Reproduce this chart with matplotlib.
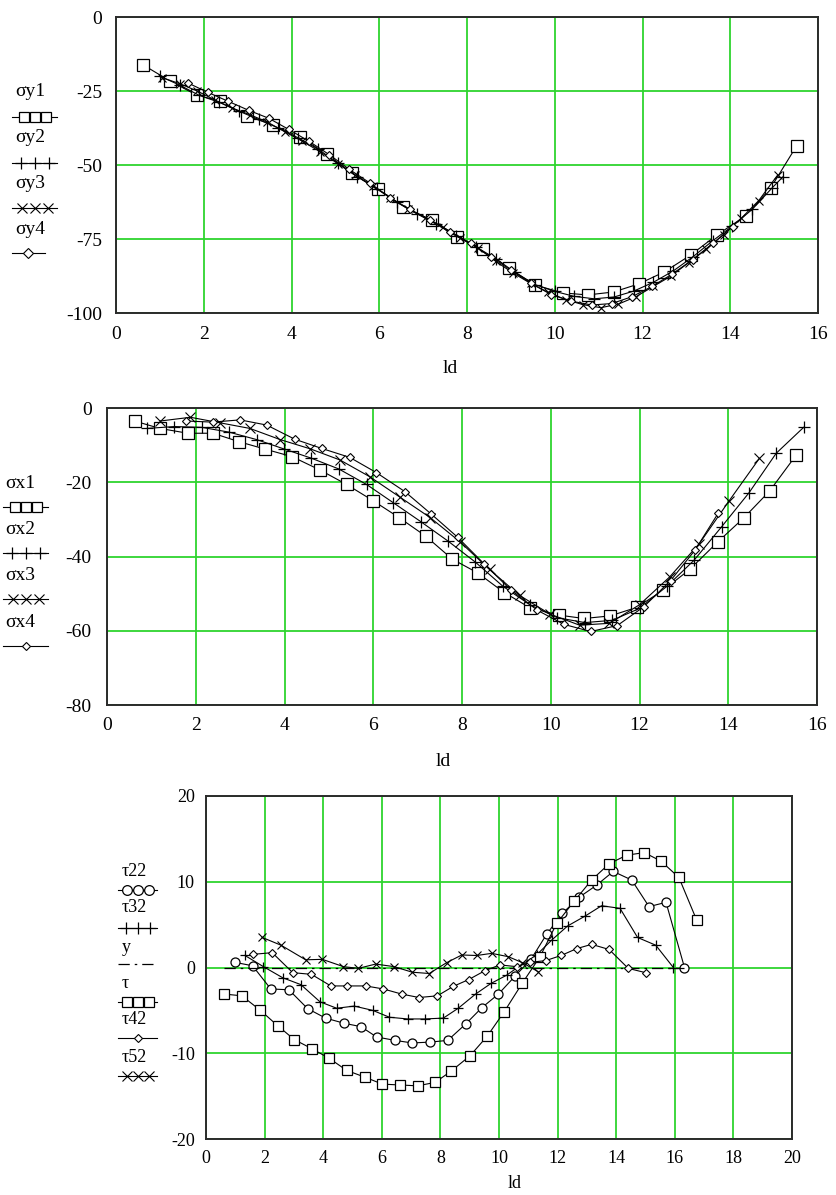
import matplotlib
matplotlib.use("Agg")
import matplotlib.pyplot as plt
from matplotlib.lines import Line2D

plt.rcParams["font.family"] = ["Liberation Serif", "DejaVu Serif"]
plt.rcParams["axes.unicode_minus"] = False

W, H = 836, 1195
GREEN = "#2ed42e"

# ---------------- top chart: sigma y ----------------
sy1_x = [0.62, 1.23, 1.84, 2.37, 2.98, 3.58, 4.19, 4.8, 5.37, 5.97, 6.54, 7.2, 7.77,
         8.36, 8.95, 9.54, 10.18, 10.75, 11.34, 11.91, 12.5, 13.1, 13.7, 14.35, 14.92, 15.51]
sy1_y = [-16.2, -21.6, -26.4, -28.4, -33.4, -36.5, -40.5, -46.3, -52.7, -58.1, -64.2, -68.6, -74.3,
         -78.4, -84.8, -90.5, -93.2, -93.9, -92.9, -90.2, -86.1, -80.4, -73.6, -67.2, -57.8, -43.6]

sy2_x = [1.0, 1.45, 1.9, 2.35, 2.8, 3.25, 3.7, 4.15, 4.6, 5.05, 5.5, 5.95, 6.4, 6.85, 7.3, 7.75,
         8.2, 8.65, 9.1, 9.55, 10.0, 10.45, 10.9, 11.35, 11.8, 12.25, 12.7, 13.15, 13.6, 14.05,
         14.5, 14.95, 15.2]
sy2_y = [-20.0, -23.0, -26.5, -28.8, -31.8, -34.6, -37.5, -40.8, -44.6, -49.2, -53.9, -58.0, -62.6,
         -66.4, -70.0, -74.0, -77.6, -81.6, -86.3, -90.4, -92.7, -94.4, -95.2, -94.6, -92.6, -89.6,
         -85.8, -81.0, -75.6, -70.6, -65.0, -57.8, -54.0]

sy3_x = [1.05, 1.45, 1.85, 2.25, 2.65, 3.05, 3.45, 3.85, 4.25, 4.65, 5.05, 5.45, 5.85, 6.25, 6.65,
         7.05, 7.45, 7.85, 8.25, 8.65, 9.05, 9.45, 9.85, 10.25, 10.65, 11.05, 11.45, 11.85, 12.25,
         12.65, 13.05, 13.45, 13.85, 14.25, 14.65, 15.08]
sy3_y = [-20.5, -22.5, -25.0, -28.0, -30.8, -33.0, -35.5, -38.8, -42.0, -45.5, -49.5, -53.5, -57.2,
         -61.0, -64.8, -67.8, -71.0, -74.5, -78.0, -82.5, -86.5, -90.0, -93.0, -95.5, -97.2, -98.2,
         -97.0, -94.5, -91.0, -87.5, -83.0, -78.5, -73.5, -68.0, -62.0, -53.4]

sy4_x = [1.64, 2.1, 2.56, 3.02, 3.48, 3.94, 4.4, 4.86, 5.32, 5.78, 6.24, 6.7, 7.16, 7.62, 8.08,
         8.54, 9.0, 9.46, 9.92, 10.38, 10.84, 11.3, 11.76, 12.22, 12.68, 13.14, 13.6, 14.06]
sy4_y = [-22.3, -25.5, -28.5, -31.5, -34.2, -38.0, -42.0, -46.5, -51.5, -56.0, -61.0, -65.0, -68.5,
         -72.5, -76.5, -81.0, -85.5, -90.0, -93.8, -96.0, -97.3, -96.8, -94.5, -91.0, -86.8, -82.0,
         -76.5, -70.8]

# ---------------- middle chart: sigma x ----------------
sx1_x = [0.62, 1.19, 1.82, 2.39, 2.98, 3.57, 4.17, 4.8, 5.4, 6.0, 6.58, 7.18, 7.78, 8.35, 8.95,
         9.53, 10.19, 10.75, 11.34, 11.94, 12.53, 13.13, 13.77, 14.35, 14.93, 15.53]
sx1_y = [-3.5, -5.5, -6.8, -6.8, -9.1, -11.1, -13.1, -16.7, -20.6, -25.0, -29.5, -34.5, -40.7,
         -44.4, -49.7, -53.8, -55.8, -56.7, -56.0, -53.7, -49.1, -43.5, -36.0, -29.6, -22.4, -12.7]

sx2_x = [0.9, 1.52, 2.13, 2.75, 3.37, 3.98, 4.6, 5.22, 5.85, 6.45, 7.07, 7.68, 8.3, 8.92, 9.53,
         10.15, 10.77, 11.38, 12.0, 12.62, 13.23, 13.85, 14.47, 15.08, 15.7]
sx2_y = [-5.5, -5.0, -5.2, -6.5, -8.5, -11.0, -13.5, -16.4, -20.6, -25.5, -30.6, -35.8, -41.5,
         -48.0, -53.0, -56.5, -57.8, -57.2, -54.0, -48.0, -41.0, -32.0, -22.8, -12.2, -5.2]

sx3_x = [1.2, 1.88, 2.55, 3.22, 3.9, 4.58, 5.25, 5.92, 6.6, 7.28, 7.95, 8.62, 9.3, 9.98, 10.65,
         11.32, 12.0, 12.68, 13.35, 14.02, 14.7]
sx3_y = [-3.5, -2.5, -4.0, -5.5, -8.5, -11.0, -14.0, -18.5, -24.0, -29.5, -36.0, -43.5, -50.5,
         -55.5, -58.5, -58.0, -53.0, -45.5, -36.5, -25.0, -13.6]

sx4_x = [1.77, 2.38, 3.0, 3.6, 4.23, 4.84, 5.47, 6.07, 6.71, 7.31, 7.9, 8.5, 9.1, 9.7, 10.3,
         10.9, 11.5, 12.1, 12.7, 13.25, 13.77]
sx4_y = [-3.5, -3.8, -3.2, -4.6, -8.4, -10.9, -13.3, -17.4, -22.5, -28.6, -34.8, -42.0, -49.0,
         -54.5, -58.3, -60.2, -58.6, -53.5, -46.5, -38.3, -28.4]

# ---------------- bottom chart: tau ----------------
t22_x = [0.99, 1.59, 2.21, 2.83, 3.47, 4.08, 4.71, 5.29, 5.82, 6.45, 7.04, 7.65, 8.25, 8.86,
         9.41, 9.98, 10.55, 11.1, 11.63, 12.16, 12.74, 13.33, 13.9, 14.53, 15.12, 15.7, 16.33]
t22_y = [0.6, 0.2, -2.5, -2.6, -4.8, -5.9, -6.5, -6.9, -8.1, -8.5, -8.8, -8.7, -8.5, -6.6,
         -4.7, -3.1, -1.0, 1.0, 3.9, 6.3, 8.2, 9.6, 11.2, 10.2, 7.1, 7.6, 0.0]

t32_x = [1.33, 1.96, 2.62, 3.24, 3.89, 4.46, 5.06, 5.69, 6.26, 6.88, 7.47, 8.1, 8.61, 9.2,
         9.73, 10.26, 10.63, 11.28, 11.8, 12.34, 12.94, 13.5, 14.13, 14.73, 15.35, 15.95]
t32_y = [1.4, 0.1, -1.2, -2.0, -4.0, -4.75, -4.5, -5.0, -5.8, -6.0, -6.0, -5.9, -4.75, -3.1,
         -1.85, -0.9, 0.0, 1.46, 3.2, 4.84, 6.0, 7.2, 6.9, 3.5, 2.6, 0.0]

yline_x = [0.6, 16.3]
yline_y = [0.0, 0.0]

tau_x = [0.63, 1.22, 1.84, 2.45, 3.01, 3.63, 4.21, 4.8, 5.43, 6.02, 6.62, 7.22, 7.82, 8.36,
         9.01, 9.6, 10.18, 10.8, 11.4, 11.97, 12.57, 13.16, 13.76, 14.36, 14.96, 15.53, 16.14, 16.75]
tau_y = [-3.1, -3.3, -4.95, -6.8, -8.4, -9.5, -10.6, -12.0, -12.8, -13.6, -13.7, -13.8, -13.4,
         -12.1, -10.3, -8.0, -5.15, -1.8, 1.26, 5.15, 7.75, 10.2, 12.1, 13.1, 13.4, 12.4, 10.5, 5.5]

t42_x = [1.62, 2.26, 2.96, 3.6, 4.26, 4.82, 5.45, 6.05, 6.68, 7.27, 7.9, 8.44, 8.97, 9.52,
         10.03, 10.6, 11.05, 11.59, 12.12, 12.65, 13.16, 13.76, 14.41, 15.0]
t42_y = [1.54, 1.73, -0.6, -0.8, -2.15, -2.15, -2.15, -2.5, -3.1, -3.5, -3.3, -2.2, -1.4, -0.37,
         0.3, 0.1, 0.6, 0.8, 1.4, 2.2, 2.7, 2.1, -0.1, -0.6]

t52_x = [1.92, 2.56, 3.4, 3.97, 4.69, 5.2, 5.79, 6.42, 7.04, 7.62, 8.21, 8.73, 9.24, 9.75,
         10.32, 10.8, 11.34]
t52_y = [3.5, 2.6, 0.9, 0.95, 0.1, -0.1, 0.4, 0.1, -0.55, -0.7, 0.56, 1.46, 1.4, 1.65, 1.26,
         0.56, -0.5]

# marker styles (MathCad look)
SQ = dict(marker="s", mfc="white", mec="black", mew=0.9)
PL = dict(marker="+", mec="black", mew=0.9)
XX = dict(marker="x", mec="black", mew=0.8)
DI = dict(marker="D", mfc="white", mec="black", mew=0.8)
CI = dict(marker="o", mfc="white", mec="black", mew=0.9)
LINE = dict(color="black", lw=0.8)
DASH = dict(color="black", lw=0.9, ls=(0, (9, 4, 2, 4)))


def fx(px):
    return px / W


def fy(py):
    return 1 - py / H


def make_axes(fig, l, t, r, b):
    ax = fig.add_axes([fx(l), fy(b), fx(r) - fx(l), (b - t) / H])
    ax.grid(True, color=GREEN, lw=1.3)
    for s in ax.spines.values():
        s.set_color("#2b2b2b")
        s.set_linewidth(1.4)
    return ax


def legend_entry(fig, label, text_xy, line_x, line_y, style, n_marks, fs, gap=0):
    # MathCad style: name on one row, line sample just below it
    fig.text(fx(text_xy[0]), fy(text_xy[1]), label, fontsize=fs, ha="left", va="center")
    x0, x1 = line_x
    xc = (x0 + x1) / 2
    if n_marks == 3:
        xs = [x0, xc - gap, xc, xc + gap, x1]
        mk = [1, 2, 3]
    elif n_marks == 1:
        xs = [x0, xc, x1]
        mk = [1]
    else:
        xs = [x0, x1]
        mk = None
    ln = Line2D([fx(v) for v in xs], [fy(line_y)] * len(xs), transform=fig.transFigure,
                markevery=mk, **style)
    fig.add_artist(ln)


fig = plt.figure(figsize=(W / 100, H / 100), dpi=100)

# ---- top ----
ax1 = make_axes(fig, 116, 17, 818, 313)
ax1.plot(sy1_x, sy1_y, ms=8.5, **SQ, **LINE)
ax1.plot(sy2_x, sy2_y, ms=8, **PL, **LINE)
ax1.plot(sy3_x, sy3_y, ms=6, **XX, **LINE)
ax1.plot(sy4_x, sy4_y, ms=4.5, **DI, **LINE)
ax1.set_xlim(0, 16)
ax1.set_ylim(-100, 0)
ax1.set_xticks(range(0, 17, 2))
ax1.set_yticks([0, -25, -50, -75, -100])
ax1.tick_params(length=0, labelsize=14)
ax1.tick_params(axis="y", pad=10)
ax1.tick_params(axis="x", pad=9)
ax1.set_xlabel("ld", fontsize=14)
ax1.xaxis.set_label_coords(0.476, -0.16)
ax1.xaxis.label.set_va("top")

legend_entry(fig, "σy1", (15, 92), (12, 57), 117, dict(ms=7.5, **SQ, **LINE), 3, 14, gap=11)
legend_entry(fig, "σy2", (15, 138), (12, 57), 163, dict(ms=9, **PL, **LINE), 3, 14, gap=14)
legend_entry(fig, "σy3", (15, 184), (12, 57), 208, dict(ms=7.5, **XX, **LINE), 3, 14, gap=13)
legend_entry(fig, "σy4", (15, 230), (12, 45), 253, dict(ms=5, **DI, **LINE), 1, 14)

# ---- middle ----
ax2 = make_axes(fig, 107, 408, 817, 705)
ax2.plot(sx1_x, sx1_y, ms=8.5, **SQ, **LINE)
ax2.plot(sx2_x, sx2_y, ms=8, **PL, **LINE)
ax2.plot(sx3_x, sx3_y, ms=6.5, **XX, **LINE)
ax2.plot(sx4_x, sx4_y, ms=4.5, **DI, **LINE)
ax2.set_xlim(0, 16)
ax2.set_ylim(-80, 0)
ax2.set_xticks(range(0, 17, 2))
ax2.set_yticks([0, -20, -40, -60, -80])
ax2.tick_params(length=0, labelsize=14)
ax2.tick_params(axis="y", pad=11)
ax2.tick_params(axis="x", pad=9)
ax2.set_xlabel("ld", fontsize=14)
ax2.xaxis.set_label_coords(0.473, -0.16)
ax2.xaxis.label.set_va("top")

legend_entry(fig, "σx1", (5, 483), (3, 48), 507, dict(ms=7.5, **SQ, **LINE), 3, 14, gap=11)
legend_entry(fig, "σx2", (5, 529), (3, 48), 553, dict(ms=9, **PL, **LINE), 3, 14, gap=14)
legend_entry(fig, "σx3", (5, 575), (3, 48), 599, dict(ms=7.5, **XX, **LINE), 3, 14, gap=13)
legend_entry(fig, "σx4", (5, 622), (3, 48), 646, dict(ms=4, **DI, **LINE), 1, 14)

# ---- bottom ----
ax3 = make_axes(fig, 206, 796, 792, 1139)
ax3.plot(t22_x, t22_y, ms=6.5, **CI, **LINE)
ax3.plot(t32_x, t32_y, ms=7.5, **PL, **LINE)
ax3.plot(yline_x, yline_y, **DASH)
ax3.plot(tau_x, tau_y, ms=7.5, **SQ, **LINE)
ax3.plot(t42_x, t42_y, ms=3.8, **DI, **LINE)
ax3.plot(t52_x, t52_y, ms=6, **XX, **LINE)
ax3.set_xlim(0, 20)
ax3.set_ylim(-20, 20)
ax3.set_xticks(range(0, 21, 2))
ax3.set_yticks([-20, -10, 0, 10, 20])
ax3.tick_params(length=0, labelsize=13)
ax3.tick_params(axis="y", pad=8)
ax3.tick_params(axis="x", pad=8)
ax3.set_xlabel("ld", fontsize=13)
ax3.xaxis.set_label_coords(0.527, -0.105)
ax3.xaxis.label.set_va("top")

legend_entry(fig, "τ22", (122, 871), (118, 157), 890, dict(ms=7, **CI, **LINE), 3, 13, gap=11)
legend_entry(fig, "τ32", (122, 908), (118, 157), 928, dict(ms=8.5, **PL, **LINE), 3, 13, gap=12)
legend_entry(fig, "y", (122, 947), (118, 157), 964, DASH, 0, 13)
legend_entry(fig, "τ", (122, 983), (118, 157), 1002, dict(ms=7, **SQ, **LINE), 3, 13, gap=11)
legend_entry(fig, "τ42", (122, 1020), (118, 157), 1038, dict(ms=3.8, **DI, **LINE), 1, 13)
legend_entry(fig, "τ52", (122, 1057), (118, 157), 1076, dict(ms=7, **XX, **LINE), 3, 13, gap=11)

fig.savefig("out.png", dpi=100)
